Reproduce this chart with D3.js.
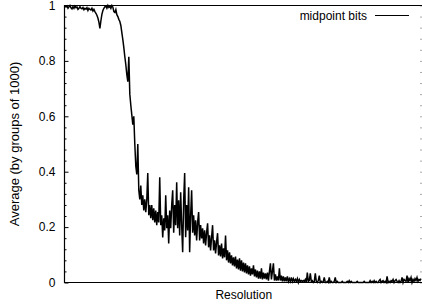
<!DOCTYPE html>
<html>
<head>
<meta charset="utf-8">
<script src="https://cdn.jsdelivr.net/npm/d3@7"></script>
<style>
  body { margin: 0; background: #fff; }
  svg text { font-family: "Liberation Sans", Arial, sans-serif; font-size: 12px; fill: #000; }
</style>
</head>
<body>
<svg id="chart" width="422" height="307"></svg>
<script>
const seriesName = "midpoint bits";
const xLabel = "Resolution";
const yLabel = "Average (by groups of 1000)";
const yMajorTicks = [0, 0.2, 0.4, 0.6, 0.8, 1];
const yTickLabels = ["0", "0.2", "0.4", "0.6", "0.8", "1"];
const yMinorTicks = [0.04, 0.08, 0.12, 0.16, 0.24, 0.28, 0.32, 0.36, 0.44, 0.48, 0.52, 0.56,
    0.64, 0.68, 0.72, 0.76, 0.84, 0.88, 0.92, 0.96];

// averages, one per group
const midpointBits = [
    1, .995, .998, .99, .995, 1, .992, .988, .996, .99, .998, .992, .995, .986, .99, .996, .99, .988, .993, .985,
    .99, .987, .992, .982, .99, .986, .984, .99, .98, .986,
    .978, .972, .965, .955, .94, .917, .945, .968, .982, .99, .995,
    .998, .99, 1, .993, .997, .99, 1, .994,
    .978, .975, .985, .967, .96, .95, .942, .928, .902, .877, .848, .815, .786, .75, .725, .815,
    .68, .64, .605, .57, .6, .5, .42, .39, .5, .333, .3, .35, .28, .315, .26, .3, .254, .297,
    .395, .243, .28, .232, .28, .225, .268, .217, .26, .207, .254, .217, .38, .207, .243, .163, .232, .188, .315,
    .196, .243, .141, .26,
    .196, .28, .333, .18, .28, .207, .362, .196, .297, .17, .326, .207, .109, .297, .395, .163, .28, .188, .344,
    .109, .243, .333, .18, .243, .17, .225, .152, .217, .254, .152,
    .207, .159, .196, .141, .188, .134, .18, .214, .127, .17, .116, .163, .207, .116, .152, .105, .145, .178,
    .098, .134, .094, .141, .087, .123, .091, .17, .08, .116, .072, .109,
    .069, .098, .062, .091, .058, .094, .051, .083, .047, .087, .043, .08, .04, .072, .036, .069, .033, .062,
    .029, .058, .025, .051, .029, .062, .022, .047, .018, .043, .014, .04,
    .014, .051, .011, .036, .014, .033, .011, .036, .007, .04, .069, .011, .04, .069, .007, .029, .007, .022,
    .007, .051, .007, .025, .004, .022, .004, .018, .004, .022, .004, .014, .004, .018, .004, .014, .004, .011,
    .004, .014, 0, .011,
    .004, .007, .004, .007, .004, .011, 0, .036, .004, .007, .033, .004, .007, 0, .004, .033, .004, 0, .007,
    .025, 0, .004, 0, .004, .018, 0, 0, .004, 0, .018, 0, .004, 0, 0, .004, .018, 0, .004, 0, 0,
    0, 0, .004, 0, 0, 0, 0, .004, 0, .007, 0, .004, 0, 0, 0, 0, 0, .004, 0, 0, 0, 0, 0, 0, .004, 0, 0, 0, 0, 0,
    .007, 0, .004, 0, .007, 0, .004, 0, 0, .007,
    .011, 0, .004, .007, 0, .004, 0, .022, 0, .004, 0, .007, .004, .011, 0, .007, .011, .004, 0, .007, 0, .004,
    .018, 0, .011, .007, .004, .025, 0, .014, .007, .018, 0, .011, .004, .014, .007, .018, .004, .011, .007, .014
];

const plotLeft = 64.5, plotRight = 422, plotTop = 5.5, plotBottom = 282.5;

const svg = d3.select("#chart");

const x = d3.scaleLinear()
    .domain([0, midpointBits.length - 1])
    .range([plotLeft + 0.5, plotRight - 1]);
const y = d3.scaleLinear()
    .domain([0, 1])
    .range([plotBottom, plotTop]);

// left axis, ticks pointing inward like gnuplot
const yAxis = d3.axisLeft(y)
    .tickValues(yMajorTicks)
    .tickFormat((d, i) => yTickLabels[i])
    .tickSizeInner(-4)
    .tickSizeOuter(0)
    .tickPadding(9);
const gy = svg.append("g")
    .attr("transform", `translate(${plotLeft},0)`)
    .call(yAxis);
gy.select(".domain").remove();
gy.selectAll("text").style("font-size", "12px").style("font-family", "Liberation Sans, Arial, sans-serif");

svg.append("g")
    .attr("transform", `translate(${plotLeft},0)`)
    .call(d3.axisLeft(y).tickValues(yMinorTicks).tickFormat("").tickSizeInner(-2).tickSizeOuter(0))
    .select(".domain").remove();

// mirrored ticks on the right edge (mostly cropped off)
const gr = svg.append("g")
    .attr("transform", `translate(${plotRight},0)`)
    .call(d3.axisRight(y).tickValues(yMinorTicks.concat(yMajorTicks)).tickFormat("").tickSizeInner(-2).tickSizeOuter(0));
gr.select(".domain").remove();
gr.selectAll("line").attr("stroke", "#aaa");

// frame
svg.append("path")
    .attr("d", `M${plotRight},${plotTop}H${plotLeft}V${plotBottom}H${plotRight}`)
    .attr("fill", "none")
    .attr("stroke", "#000")
    .attr("stroke-width", 1.2);

// data line
const line = d3.line()
    .x((d, i) => x(i))
    .y(d => y(d));
svg.append("path")
    .datum(midpointBits)
    .attr("d", line)
    .attr("fill", "none")
    .attr("stroke", "#000")
    .attr("stroke-width", 1.5)
    .attr("stroke-linejoin", "miter");

// legend
svg.append("text")
    .attr("x", 367)
    .attr("y", 19.5)
    .attr("text-anchor", "end")
    .text(seriesName);
svg.append("line")
    .attr("x1", 375).attr("x2", 409)
    .attr("y1", 15.5).attr("y2", 15.5)
    .attr("stroke", "#000");

// axis titles
svg.append("text")
    .attr("x", (plotLeft + plotRight) / 2 + 0.5)
    .attr("y", 299)
    .attr("text-anchor", "middle")
    .text(xLabel);
svg.append("text")
    .attr("transform", `translate(18.5,${(plotTop + plotBottom) / 2}) rotate(-90)`)
    .attr("text-anchor", "middle")
    .style("font-size", "13px")
    .text(yLabel);
</script>
</body>
</html>
